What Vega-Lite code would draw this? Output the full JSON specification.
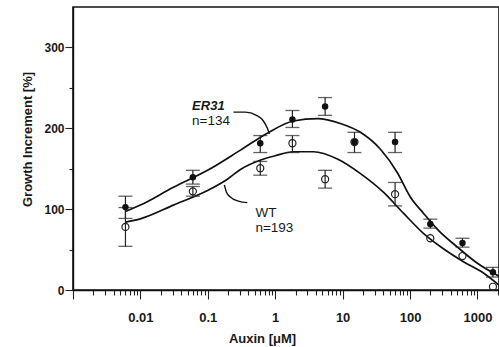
{
  "$schema": "https://vega.github.io/schema/vega-lite/v6.json",
  "width": 426,
  "height": 283,
  "autosize": {"type": "none"},
  "padding": {"left": 73, "top": 7, "right": 0, "bottom": 57},
  "background": "white",
  "config": {
    "view": {"stroke": "#111", "strokeWidth": 1.6},
    "font": "Liberation Sans"
  },
  "datasets": {
    "points": [
      {"conc": 0.006, "growth": 102.5, "genotype": "ER31"},
      {"conc": 0.06, "growth": 139.5, "genotype": "ER31"},
      {"conc": 0.6, "growth": 181.5, "genotype": "ER31"},
      {"conc": 1.8, "growth": 211, "genotype": "ER31"},
      {"conc": 5.5, "growth": 227, "genotype": "ER31"},
      {"conc": 15, "growth": 183, "genotype": "ER31"},
      {"conc": 60, "growth": 183, "genotype": "ER31"},
      {"conc": 200, "growth": 81.5, "genotype": "ER31"},
      {"conc": 600, "growth": 58, "genotype": "ER31"},
      {"conc": 1700, "growth": 22, "genotype": "ER31"},
      {"conc": 0.006, "growth": 78, "genotype": "WT"},
      {"conc": 0.06, "growth": 122, "genotype": "WT"},
      {"conc": 0.6, "growth": 150.6, "genotype": "WT"},
      {"conc": 1.8, "growth": 181.5, "genotype": "WT"},
      {"conc": 5.5, "growth": 137, "genotype": "WT"},
      {"conc": 15, "growth": 183, "genotype": "WT"},
      {"conc": 60, "growth": 118.5, "genotype": "WT"},
      {"conc": 200, "growth": 64, "genotype": "WT"},
      {"conc": 600, "growth": 42, "genotype": "WT"},
      {"conc": 1700, "growth": 4, "genotype": "WT"}
    ],
    "errbars": [
      {"conc": 0.006, "lo": 88.5, "hi": 116, "genotype": "ER31"},
      {"conc": 0.06, "lo": 131, "hi": 148, "genotype": "ER31"},
      {"conc": 0.6, "lo": 170, "hi": 191, "genotype": "ER31"},
      {"conc": 1.8, "lo": 201, "hi": 222, "genotype": "ER31"},
      {"conc": 5.5, "lo": 216, "hi": 238, "genotype": "ER31"},
      {"conc": 15, "lo": 170, "hi": 195, "genotype": "ER31"},
      {"conc": 60, "lo": 170, "hi": 195, "genotype": "ER31"},
      {"conc": 200, "lo": 76.5, "hi": 87.6, "genotype": "ER31"},
      {"conc": 600, "lo": 53, "hi": 64, "genotype": "ER31"},
      {"conc": 1700, "lo": 16, "hi": 28, "genotype": "ER31"},
      {"conc": 0.006, "lo": 54, "hi": 102, "genotype": "WT"},
      {"conc": 0.06, "lo": 116, "hi": 128, "genotype": "WT"},
      {"conc": 0.6, "lo": 142, "hi": 159, "genotype": "WT"},
      {"conc": 1.8, "lo": 170, "hi": 191, "genotype": "WT"},
      {"conc": 5.5, "lo": 126, "hi": 148, "genotype": "WT"},
      {"conc": 60, "lo": 104, "hi": 133, "genotype": "WT"}
    ],
    "curves": [
      {"conc": 0.006, "growth": 97, "genotype": "ER31"},
      {"conc": 0.01, "growth": 105, "genotype": "ER31"},
      {"conc": 0.0309, "growth": 127, "genotype": "ER31"},
      {"conc": 0.099, "growth": 148, "genotype": "ER31"},
      {"conc": 0.305, "growth": 173, "genotype": "ER31"},
      {"conc": 0.765, "growth": 194, "genotype": "ER31"},
      {"conc": 1.86, "growth": 209, "genotype": "ER31"},
      {"conc": 4.23, "growth": 212, "genotype": "ER31"},
      {"conc": 9.27, "growth": 206, "genotype": "ER31"},
      {"conc": 18.4, "growth": 195, "genotype": "ER31"},
      {"conc": 36.4, "growth": 174, "genotype": "ER31"},
      {"conc": 65, "growth": 145, "genotype": "ER31"},
      {"conc": 101, "growth": 115, "genotype": "ER31"},
      {"conc": 158, "growth": 95, "genotype": "ER31"},
      {"conc": 255, "growth": 75, "genotype": "ER31"},
      {"conc": 505, "growth": 53, "genotype": "ER31"},
      {"conc": 1000, "growth": 33, "genotype": "ER31"},
      {"conc": 2090, "growth": 17, "genotype": "ER31"},
      {"conc": 0.006, "growth": 84, "genotype": "WT"},
      {"conc": 0.01, "growth": 88, "genotype": "WT"},
      {"conc": 0.0309, "growth": 105, "genotype": "WT"},
      {"conc": 0.099, "growth": 123, "genotype": "WT"},
      {"conc": 0.195, "growth": 137, "genotype": "WT"},
      {"conc": 0.305, "growth": 149, "genotype": "WT"},
      {"conc": 0.624, "growth": 161, "genotype": "WT"},
      {"conc": 1.0, "growth": 166, "genotype": "WT"},
      {"conc": 1.86, "growth": 171, "genotype": "WT"},
      {"conc": 3.69, "growth": 171, "genotype": "WT"},
      {"conc": 8.37, "growth": 162, "genotype": "WT"},
      {"conc": 18.4, "growth": 144, "genotype": "WT"},
      {"conc": 40.3, "growth": 121, "genotype": "WT"},
      {"conc": 79.8, "growth": 95, "genotype": "WT"},
      {"conc": 158, "growth": 70, "genotype": "WT"},
      {"conc": 313, "growth": 51, "genotype": "WT"},
      {"conc": 620, "growth": 35, "genotype": "WT"},
      {"conc": 1228, "growth": 21, "genotype": "WT"},
      {"conc": 2090, "growth": 6, "genotype": "WT"}
    ],
    "leaders": [
      {"id": "ER31", "ord": 1, "conc": 0.24, "growth": 220},
      {"id": "ER31", "ord": 2, "conc": 0.361, "growth": 220},
      {"id": "ER31", "ord": 3, "conc": 0.526, "growth": 216},
      {"id": "ER31", "ord": 4, "conc": 0.668, "growth": 209},
      {"id": "ER31", "ord": 5, "conc": 0.766, "growth": 200},
      {"id": "ER31", "ord": 6, "conc": 0.82, "growth": 193},
      {"id": "WT", "ord": 1, "conc": 0.386, "growth": 108},
      {"id": "WT", "ord": 2, "conc": 0.284, "growth": 110},
      {"id": "WT", "ord": 3, "conc": 0.216, "growth": 115},
      {"id": "WT", "ord": 4, "conc": 0.189, "growth": 121},
      {"id": "WT", "ord": 5, "conc": 0.176, "growth": 130}
    ],
    "labels": [
      {"conc": 0.0585, "growth": 203.5, "text": "n=134"},
      {"conc": 0.508, "growth": 90, "text": "WT"},
      {"conc": 0.508, "growth": 71.5, "text": "n=193"}
    ],
    "italic": [
      {"conc": 0.0585, "growth": 222, "text": "ER31"}
    ]
  },
  "layer": [
    {
      "data": {"name": "curves"},
      "mark": {"type": "line", "interpolate": "monotone", "color": "#111", "strokeWidth": 1.7},
      "encoding": {
        "x": {
          "field": "conc", "type": "quantitative",
          "scale": {"type": "log", "domain": [0.001, 2090], "nice": false},
          "axis": {
            "title": "Auxin [μM]",
            "values": [0.001,0.002,0.003,0.004,0.005,0.006,0.007,0.008,0.009,0.01,0.02,0.03,0.04,0.05,0.06,0.07,0.08,0.09,0.1,0.2,0.3,0.4,0.5,0.6,0.7,0.8,0.9,1,2,3,4,5,6,7,8,9,10,20,30,40,50,60,70,80,90,100,200,300,400,500,600,700,800,900,1000,2000],
            "labelExpr": "(abs(log(datum.value)/LN10 - round(log(datum.value)/LN10)) < 1e-6 && datum.value >= 0.01) ? format(datum.value, '~g') : ''",
            "tickSize": {"condition": {"test": "abs(log(datum.value)/LN10 - round(log(datum.value)/LN10)) < 1e-6", "value": 9}, "value": 5},
            "grid": false,
            "domainColor": "#111", "domainWidth": 1.4,
            "tickColor": "#222", "tickWidth": 1.1,
            "labelFont": "Liberation Sans", "labelFontSize": 13, "labelFontWeight": "bold", "labelColor": "#1a1a1a",
            "labelPadding": 12, "labelFlush": false, "labelOverlap": false,
            "titleFont": "Liberation Sans", "titleFontSize": 13, "titleFontWeight": "bold", "titleColor": "#1a1a1a",
            "titleX": 189, "titleY": 48, "titleBaseline": "middle", "titleAlign": "center"
          }
        },
        "y": {
          "field": "growth", "type": "quantitative",
          "scale": {"domain": [0, 350], "nice": false},
          "axis": {
            "title": "Growth Increment [%]",
            "values": [0, 50, 100, 150, 200, 250, 300],
            "labelExpr": "datum.value % 100 === 0 ? datum.label : ''",
            "tickSize": {"condition": {"test": "datum.value % 100 === 0", "value": 8}, "value": 4},
            "grid": false,
            "domainColor": "#111", "domainWidth": 1.4,
            "tickColor": "#222", "tickWidth": 1.1,
            "labelFont": "Liberation Sans", "labelFontSize": 12, "labelFontWeight": "bold", "labelColor": "#1a1a1a",
            "labelPadding": 1,
            "titleFont": "Liberation Sans", "titleFontSize": 13, "titleFontWeight": "bold", "titleColor": "#1a1a1a",
            "titleX": -46, "titleY": 132, "titleBaseline": "middle", "titleAlign": "center", "titleAngle": -90
          }
        },
        "detail": {"field": "genotype"}
      }
    },
    {
      "data": {"name": "leaders"},
      "mark": {"type": "line", "interpolate": "monotone", "color": "#111", "strokeWidth": 1.4},
      "encoding": {
        "x": {"field": "conc", "type": "quantitative"},
        "y": {"field": "growth", "type": "quantitative"},
        "detail": {"field": "id"},
        "order": {"field": "ord", "type": "quantitative"}
      }
    },
    {
      "data": {"name": "errbars"},
      "mark": {"type": "rule", "color": "#222", "strokeWidth": 1.2},
      "encoding": {
        "x": {"field": "conc", "type": "quantitative"},
        "y": {"field": "lo", "type": "quantitative"},
        "y2": {"field": "hi"}
      }
    },
    {
      "data": {"name": "errbars"},
      "mark": {"type": "tick", "orient": "horizontal", "color": "#222", "size": 14, "thickness": 1.3},
      "encoding": {
        "x": {"field": "conc", "type": "quantitative"},
        "y": {"field": "hi", "type": "quantitative"}
      }
    },
    {
      "data": {"name": "errbars"},
      "mark": {"type": "tick", "orient": "horizontal", "color": "#222", "size": 14, "thickness": 1.3},
      "encoding": {
        "x": {"field": "conc", "type": "quantitative"},
        "y": {"field": "lo", "type": "quantitative"}
      }
    },
    {
      "data": {"name": "points"},
      "transform": [{"filter": "datum.genotype === 'WT'"}],
      "mark": {"type": "point", "shape": "circle", "filled": false, "color": "#222", "size": 50, "strokeWidth": 1.2, "opacity": 1},
      "encoding": {
        "x": {"field": "conc", "type": "quantitative"},
        "y": {"field": "growth", "type": "quantitative"}
      }
    },
    {
      "data": {"name": "points"},
      "transform": [{"filter": "datum.genotype === 'ER31'"}],
      "mark": {"type": "point", "shape": "circle", "filled": true, "color": "#111", "size": 42, "opacity": 1},
      "encoding": {
        "x": {"field": "conc", "type": "quantitative"},
        "y": {"field": "growth", "type": "quantitative"}
      }
    },
    {
      "data": {"name": "labels"},
      "mark": {"type": "text", "align": "left", "baseline": "alphabetic", "font": "Liberation Sans", "fontSize": 13.5, "color": "#1a1a1a"},
      "encoding": {
        "x": {"field": "conc", "type": "quantitative"},
        "y": {"field": "growth", "type": "quantitative"},
        "text": {"field": "text"}
      }
    },
    {
      "data": {"name": "italic"},
      "mark": {"type": "text", "align": "left", "baseline": "alphabetic", "font": "Liberation Sans", "fontSize": 13, "fontStyle": "italic", "fontWeight": "bold", "color": "#1a1a1a"},
      "encoding": {
        "x": {"field": "conc", "type": "quantitative"},
        "y": {"field": "growth", "type": "quantitative"},
        "text": {"field": "text"}
      }
    }
  ]
}
